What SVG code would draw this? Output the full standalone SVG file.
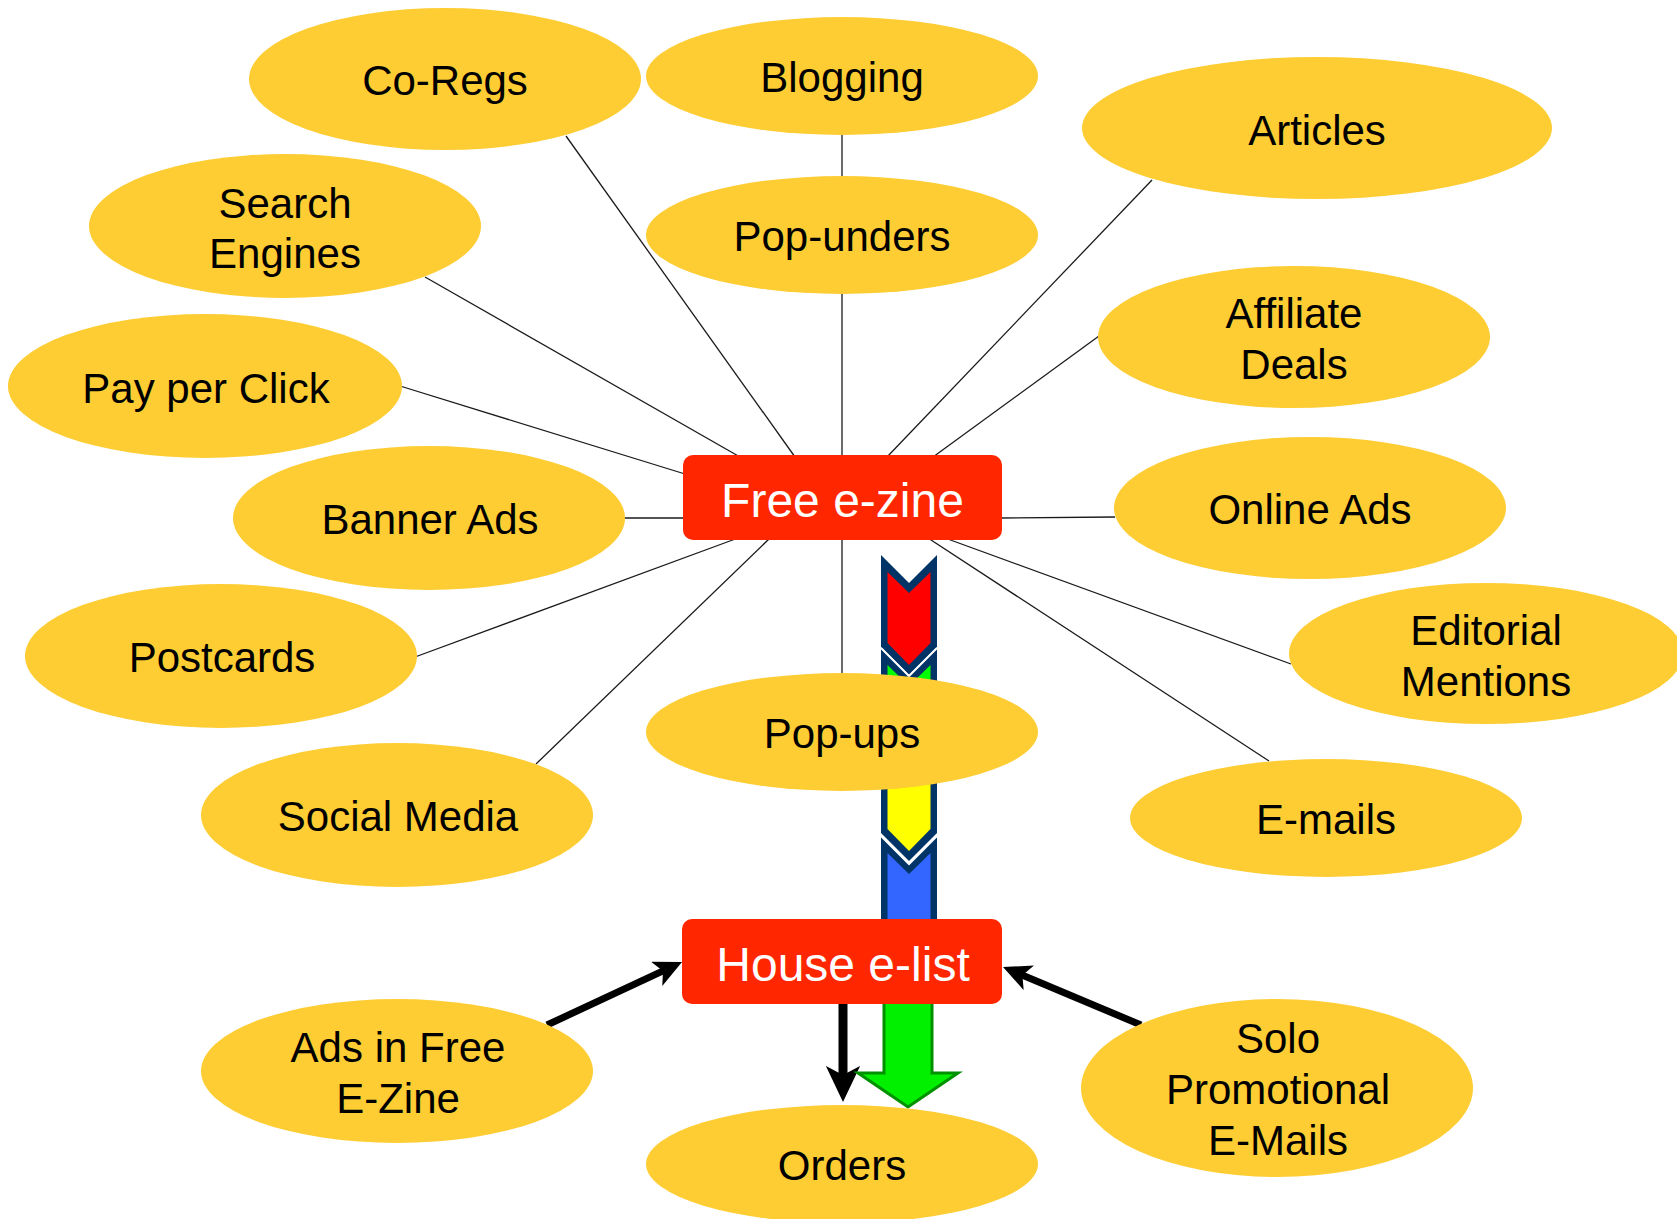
<svg xmlns="http://www.w3.org/2000/svg" width="1677" height="1219" viewBox="0 0 1677 1219">
<style>
.ell{fill:#FDCD33;}
.lbl{font-family:"Liberation Sans",Arial,sans-serif;font-size:42px;fill:#000;text-anchor:middle;}
.box{fill:#FF2600;}
.blbl{font-family:"Liberation Sans",Arial,sans-serif;font-size:48px;fill:#fff;text-anchor:middle;}
.thin{stroke:#1a1a1a;stroke-width:1.3;fill:none;}
.thick{stroke:#000;fill:none;marker-end:url(#stealth);}
.nav{fill:#003366;}
.sep{fill:none;stroke:#fff;stroke-width:2;}
</style>
<defs>
<marker id="stealth" markerUnits="strokeWidth" markerWidth="4" markerHeight="3.8" viewBox="0 0 40 38" refX="16" refY="19" orient="auto">
<path d="M0,0 L40,19 L0,38 L10,19 z" fill="#000"/>
</marker>
</defs>
<rect width="1677" height="1219" fill="#fff"/>
<g id="connectors">
<line class="thin" x1="566" y1="136" x2="795" y2="457"/>
<line class="thin" x1="842" y1="133" x2="842" y2="178"/>
<line class="thin" x1="842" y1="292" x2="842" y2="457"/>
<line class="thin" x1="1152" y1="180" x2="887" y2="457"/>
<line class="thin" x1="425" y1="277" x2="740" y2="457"/>
<line class="thin" x1="1099" y1="336" x2="933" y2="457"/>
<line class="thin" x1="400" y1="386" x2="685" y2="474"/>
<line class="thin" x1="624" y1="518" x2="685" y2="518"/>
<line class="thin" x1="1000" y1="518" x2="1115" y2="517"/>
<line class="thin" x1="415" y1="657" x2="738" y2="538"/>
<line class="thin" x1="536" y1="764" x2="770" y2="538"/>
<line class="thin" x1="842" y1="538" x2="842" y2="675"/>
<line class="thin" x1="1291" y1="664" x2="945" y2="538"/>
<line class="thin" x1="1269" y1="761" x2="928" y2="538"/>
<line class="thick" stroke-width="7" x1="547" y1="1025" x2="666.8" y2="969.1"/>
<line class="thick" stroke-width="7" x1="1141" y1="1025" x2="1018.5" y2="973.5"/>
<line class="thick" stroke-width="9" x1="843" y1="1000" x2="843" y2="1080.4"/>
</g>
<g id="flow-chevrons">
<polygon class="nav" points="881,555 909,583 937,555 937,647 909,675 881,647"/>
<polygon fill="#FF0000" points="887.5,572 909,593 930.5,572 930.5,643 909,665 887.5,643"/>
<polygon class="nav" points="881,648 909,676 937,648 937,740 909,768 881,740"/>
<polygon fill="#00FF00" points="887.5,665 909,686 930.5,665 930.5,736 909,758 887.5,736"/>
<polyline class="sep" points="881,648 909,676 937,648"/>
<polygon class="nav" points="881,741 909,769 937,741 937,833 909,861 881,833"/>
<polygon fill="#FFFF00" points="887.5,758 909,779 930.5,758 930.5,829 909,851 887.5,829"/>
<polyline class="sep" points="881,741 909,769 937,741"/>
<polygon class="nav" points="881,836 909,864 937,836 937,930 881,930"/>
<polygon fill="#3366FF" points="887.5,853 909,874 930.5,853 930.5,930 887.5,930"/>
<polyline class="sep" points="881,836 909,864 937,836"/>
</g>
<g id="green-arrow">
<polygon fill="#00F000" stroke="#009000" stroke-width="3" stroke-linejoin="miter" points="884,1000 932,1000 932,1073 958,1073 908,1107 858,1073 884,1073"/>
</g>
<g id="n-coregs"><ellipse class="ell" cx="445" cy="79" rx="196" ry="71"/><text class="lbl" x="445" y="95">Co-Regs</text></g>
<g id="n-blogging"><ellipse class="ell" cx="842" cy="76" rx="196" ry="59"/><text class="lbl" x="842" y="92">Blogging</text></g>
<g id="n-articles"><ellipse class="ell" cx="1317" cy="128" rx="235" ry="71"/><text class="lbl" x="1317" y="145">Articles</text></g>
<g id="n-search"><ellipse class="ell" cx="285" cy="226" rx="196" ry="72"/><text class="lbl" x="285" y="218">Search</text><text class="lbl" x="285" y="268">Engines</text></g>
<g id="n-popunders"><ellipse class="ell" cx="842" cy="235" rx="196" ry="59"/><text class="lbl" x="842" y="251">Pop-unders</text></g>
<g id="n-affiliate"><ellipse class="ell" cx="1294" cy="337" rx="196" ry="71"/><text class="lbl" x="1294" y="328">Affiliate</text><text class="lbl" x="1294" y="379">Deals</text></g>
<g id="n-ppc"><ellipse class="ell" cx="205" cy="386" rx="197" ry="72"/><text class="lbl" x="206" y="403">Pay per Click</text></g>
<g id="n-banner"><ellipse class="ell" cx="429" cy="518" rx="196" ry="72"/><text class="lbl" x="430" y="534">Banner Ads</text></g>
<g id="n-online"><ellipse class="ell" cx="1310" cy="508" rx="196" ry="71"/><text class="lbl" x="1310" y="524">Online Ads</text></g>
<g id="n-postcards"><ellipse class="ell" cx="221" cy="656" rx="196" ry="72"/><text class="lbl" x="222" y="672">Postcards</text></g>
<g id="n-editorial"><ellipse class="ell" cx="1486" cy="653.5" rx="197" ry="70.5"/><text class="lbl" x="1486" y="645">Editorial</text><text class="lbl" x="1486" y="696">Mentions</text></g>
<g id="n-popups"><ellipse class="ell" cx="842" cy="732" rx="196" ry="59"/><text class="lbl" x="842" y="748">Pop-ups</text></g>
<g id="n-social"><ellipse class="ell" cx="397" cy="815" rx="196" ry="72"/><text class="lbl" x="398" y="831">Social Media</text></g>
<g id="n-emails"><ellipse class="ell" cx="1326" cy="818" rx="196" ry="59"/><text class="lbl" x="1326" y="834">E-mails</text></g>
<g id="n-adsfree"><ellipse class="ell" cx="397" cy="1071" rx="196" ry="72"/><text class="lbl" x="398" y="1062">Ads in Free</text><text class="lbl" x="398" y="1113">E-Zine</text></g>
<g id="n-solo"><ellipse class="ell" cx="1277" cy="1088" rx="196" ry="89"/><text class="lbl" x="1278" y="1053">Solo</text><text class="lbl" x="1278" y="1104">Promotional</text><text class="lbl" x="1278" y="1155">E-Mails</text></g>
<g id="n-orders"><ellipse class="ell" cx="842" cy="1164" rx="196" ry="59"/><text class="lbl" x="842" y="1180">Orders</text></g>
<g id="n-free-ezine"><rect class="box" x="683" y="455" width="319" height="85" rx="10"/><text class="blbl" x="842.5" y="517">Free e-zine</text></g>
<g id="n-house-elist"><rect class="box" x="682" y="919" width="320" height="85" rx="10"/><text class="blbl" x="843" y="981">House e-list</text></g>
</svg>
